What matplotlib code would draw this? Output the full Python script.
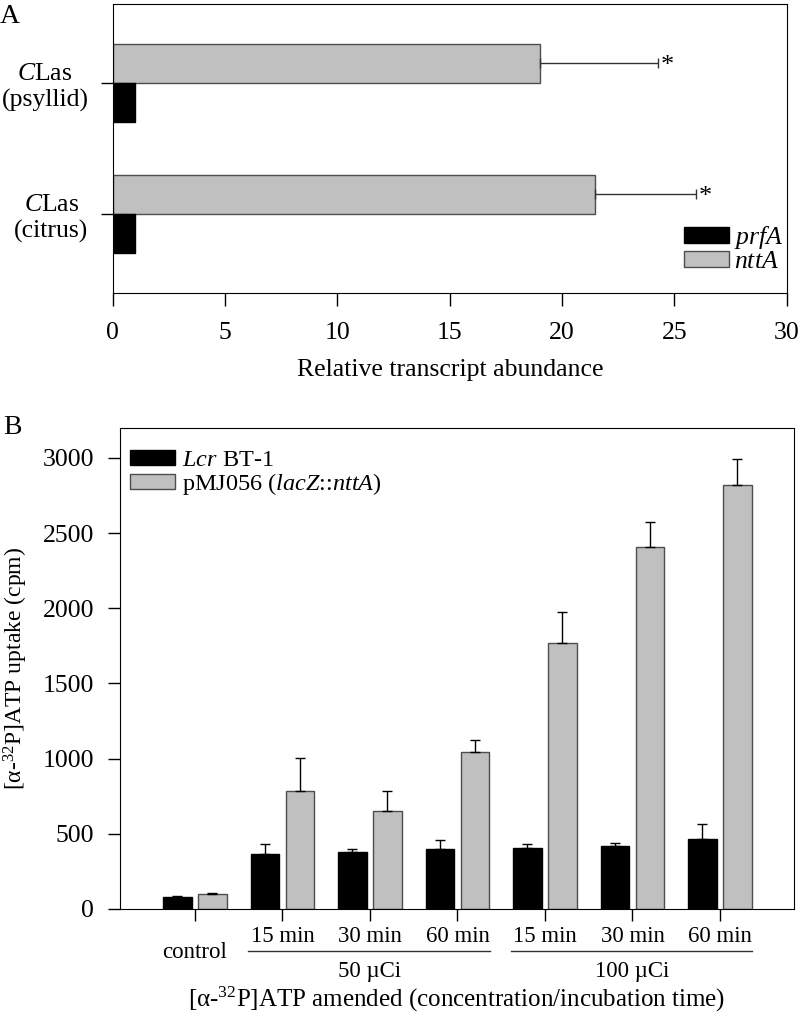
import matplotlib
matplotlib.use('Agg')
import matplotlib.pyplot as plt
import matplotlib.transforms as mtransforms
import numpy as np

plt.rcParams['font.family'] = ['Liberation Serif', 'DejaVu Serif']
plt.rcParams['mathtext.fontset'] = 'custom'
plt.rcParams['mathtext.rm'] = 'Liberation Serif'
plt.rcParams['mathtext.it'] = 'Liberation Serif:italic'

# panel A data
a_labels = ['$\\mathit{C}$Las\n(psyllid)', '$\\mathit{C}$Las\n(citrus)']
a_prfA = [1.0, 1.0]
a_nttA = [19.0, 21.45]
a_nttA_err = [5.25, 4.5]

# panel B data
b_groups = ['control', '15 min', '30 min', '60 min', '15 min', '30 min', '60 min']
b_lcr = [80, 366, 379, 399, 408, 417, 466]
b_lcr_err = [8, 66, 22, 60, 22, 21, 100]
b_pmj = [100, 783, 654, 1043, 1771, 2406, 2823]
b_pmj_err = [8, 222, 133, 82, 203, 171, 173]
b_conc = ['50 \u00b5Ci', '100 \u00b5Ci']

GRAY = '#c0c0c0'
EDGE = '#4d4d4d'

fig = plt.figure(figsize=(8, 10.14), dpi=100)

# ---------- A ----------
ax1 = fig.add_axes([0.141, 0.711, 0.8425, 0.285])
ypos = np.array([1, 0])
ax1.barh(ypos + 0.15, a_nttA, height=0.3, color=GRAY, edgecolor=EDGE, linewidth=1, label='nttA')
ax1.barh(ypos - 0.15, a_prfA, height=0.3, color='k', edgecolor='k', linewidth=1, label='prfA')
ax1.errorbar(a_nttA, ypos + 0.15, xerr=[[0, 0], a_nttA_err], fmt='none',
             ecolor='#333333', elinewidth=1, capsize=3.6, capthick=1)
for v, e, y in zip(a_nttA, a_nttA_err, ypos):
    ax1.text(v + e + 0.15, y + 0.15, '*', fontsize=19, ha='left', va='center_baseline')
ax1.set_xlim(0, 30)
ax1.set_ylim(-0.603, 1.603)
ax1.set_xticks(np.arange(0, 31, 5))
ax1.set_yticks(ypos)
ax1.set_yticklabels(a_labels, multialignment='center')
ax1.tick_params(axis='both', direction='out', length=9, width=1, labelsize=18.5)
ax1.tick_params(axis='x', pad=12)
ax1.tick_params(axis='y', pad=8.5)
ax1.set_xlabel('Relative transcript abundance', fontsize=18.5, labelpad=11)
h, l = ax1.get_legend_handles_labels()
ax1.legend([h[1], h[0]], ['$\\mathit{prfA}$', '$\\mathit{nttA}$'], loc='lower right',
           bbox_to_anchor=(0.995, 0.07), frameon=False, fontsize=18.5,
           handlelength=1.75, handleheight=0.58, labelspacing=0.0,
           handletextpad=0.2, borderpad=0, borderaxespad=0)
fig.text(0.0, 0.996, 'A', fontsize=20, ha='left', va='top')

# ---------- B ----------
ax2 = fig.add_axes([0.15, 0.1036, 0.8425, 0.4744])
x = np.arange(len(b_groups))
w = 0.33
ax2.bar(x - 0.2, b_lcr, width=w, color='k', edgecolor='k', linewidth=1,
        label='$\\mathit{Lcr}$ BT-1')
ax2.bar(x + 0.2, b_pmj, width=w, color=GRAY, edgecolor=EDGE, linewidth=1,
        label='pMJ056 ($\\mathit{lacZ}$::$\\mathit{nttA}$)')
ax2.errorbar(x - 0.2, b_lcr, yerr=[np.zeros(len(x)), b_lcr_err], fmt='none',
             ecolor='k', elinewidth=1, capsize=3.3, capthick=1)
ax2.errorbar(x + 0.2, b_pmj, yerr=[np.zeros(len(x)), b_pmj_err], fmt='none',
             ecolor='k', elinewidth=1, capsize=3.3, capthick=1)
ax2.set_xlim(-0.857, 6.846)
ax2.set_ylim(0, 3200)
ax2.set_yticks(np.arange(0, 3001, 500))
ax2.set_xticks(x)
ax2.set_xticklabels([])
ax2.tick_params(axis='both', direction='out', length=8.5, width=1, labelsize=18.5)
ax2.tick_params(axis='y', pad=10)
ax2.set_ylabel('[\u03b1-$^{32}$P]ATP uptake (cpm)', fontsize=17, labelpad=9)

trans = mtransforms.blended_transform_factory(ax2.transData, ax2.transAxes)
for i, g in enumerate(b_groups):
    yy = -0.0915 if i == 0 else -0.0582
    ax2.text(i, yy, g, transform=trans, ha='center', va='center', fontsize=16.5)
for k, lab in enumerate(b_conc):
    c = 1 + 3 * k
    ax2.plot([c - 0.39, c + 2.37], [-0.0873, -0.0873], transform=trans, color='#333333',
             linewidth=1, clip_on=False)
    ax2.text(c + 1, -0.131, lab, transform=trans, ha='center', va='center', fontsize=16.5)
ax2.text(0.5, -0.188, '[\u03b1-$^{32}$P]ATP amended (concentration/incubation time)',
         transform=ax2.transAxes, ha='center', va='center', fontsize=18)
ax2.legend(loc='upper left', bbox_to_anchor=(0.015, 0.955), frameon=False, fontsize=17.5,
           handlelength=1.85, handleheight=0.62, labelspacing=0.0, handletextpad=0.3,
           borderpad=0, borderaxespad=0)
fig.text(0.004, 0.5785, 'B', fontsize=20, ha='left', va='center')

fig.savefig('out.png', dpi=100)
